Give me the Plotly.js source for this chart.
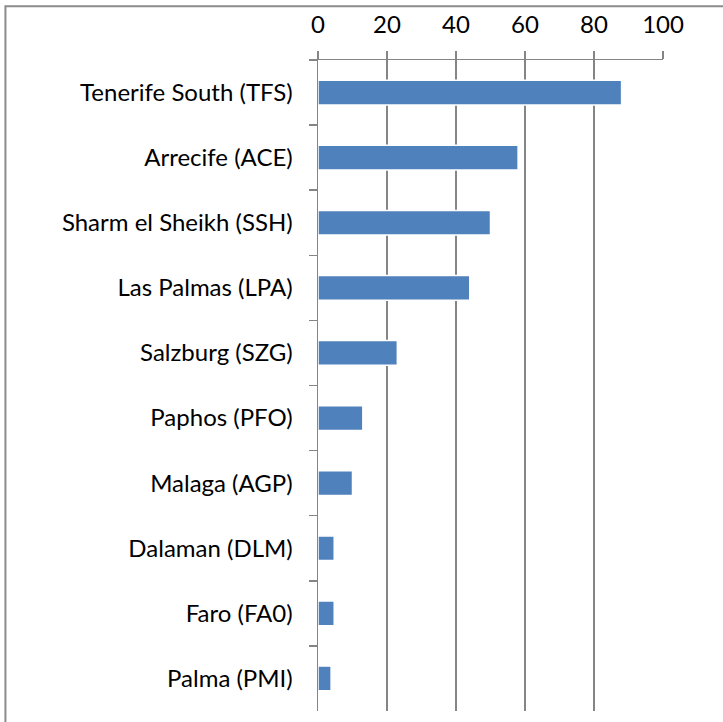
<!DOCTYPE html>
<html>
<head>
<meta charset="utf-8">
<script src="https://cdn.plot.ly/plotly-3.0.1.min.js"></script>
<style>
  html, body { margin: 0; padding: 0; background: #fff; }
  #chart { width: 723px; height: 722px; }
</style>
</head>
<body>
<div id="chart"></div>
<script>
const airports = [
  "Tenerife South (TFS)",
  "Arrecife (ACE)",
  "Sharm el Sheikh (SSH)",
  "Las Palmas (LPA)",
  "Salzburg (SZG)",
  "Paphos (PFO)",
  "Malaga (AGP)",
  "Dalaman (DLM)",
  "Faro (FA0)",
  "Palma (PMI)"
];
const values = [88, 58, 50, 44, 23, 13, 10, 4.7, 4.7, 3.8];
const xTicks = [0, 20, 40, 60, 80, 100];

const trace = {
  type: "bar",
  orientation: "h",
  y: airports,
  x: values,
  width: 0.38,
  marker: { color: "#4F81BD", line: { color: "#ffffff", width: 1.5 } },
  hoverinfo: "x+y"
};

const layout = {
  width: 723,
  height: 722,
  margin: { l: 318, r: 60, t: 60, b: 11, pad: 0 },
  paper_bgcolor: "#ffffff",
  plot_bgcolor: "#ffffff",
  showlegend: false,
  font: { family: "Lato, 'Open Sans', sans-serif", size: 24, color: "#000" },
  bargap: 0.62,
  xaxis: {
    side: "top",
    range: [0, 100],
    tickvals: xTicks,
    ticktext: xTicks.map(String),
    showgrid: true,
    gridcolor: "#858585",
    gridwidth: 1.5,
    showline: true,
    linecolor: "#858585",
    linewidth: 1.5,
    ticks: "outside",
    ticklen: 8,
    tickwidth: 1.5,
    tickcolor: "#858585",
    ticklabelstandoff: 8,
    zeroline: false,
    fixedrange: true
  },
  yaxis: {
    type: "category",
    autorange: "reversed",
    showgrid: false,
    showline: true,
    linecolor: "#858585",
    linewidth: 1.5,
    ticks: "outside",
    tickson: "boundaries",
    ticklen: 8,
    tickwidth: 1.5,
    tickcolor: "#858585",
    ticklabelstandoff: 19,
    zeroline: false,
    fixedrange: true
  },
  shapes: [{
    type: "rect",
    xref: "paper", yref: "paper",
    x0: -0.906, x1: 1.5,
    y0: -0.5, y1: 1.0825,
    line: { color: "#8c8c8c", width: 2 },
    fillcolor: "rgba(0,0,0,0)",
    layer: "below"
  }]
};

Plotly.newPlot("chart", [trace], layout, { displayModeBar: false, staticPlot: true });
</script>
</body>
</html>
